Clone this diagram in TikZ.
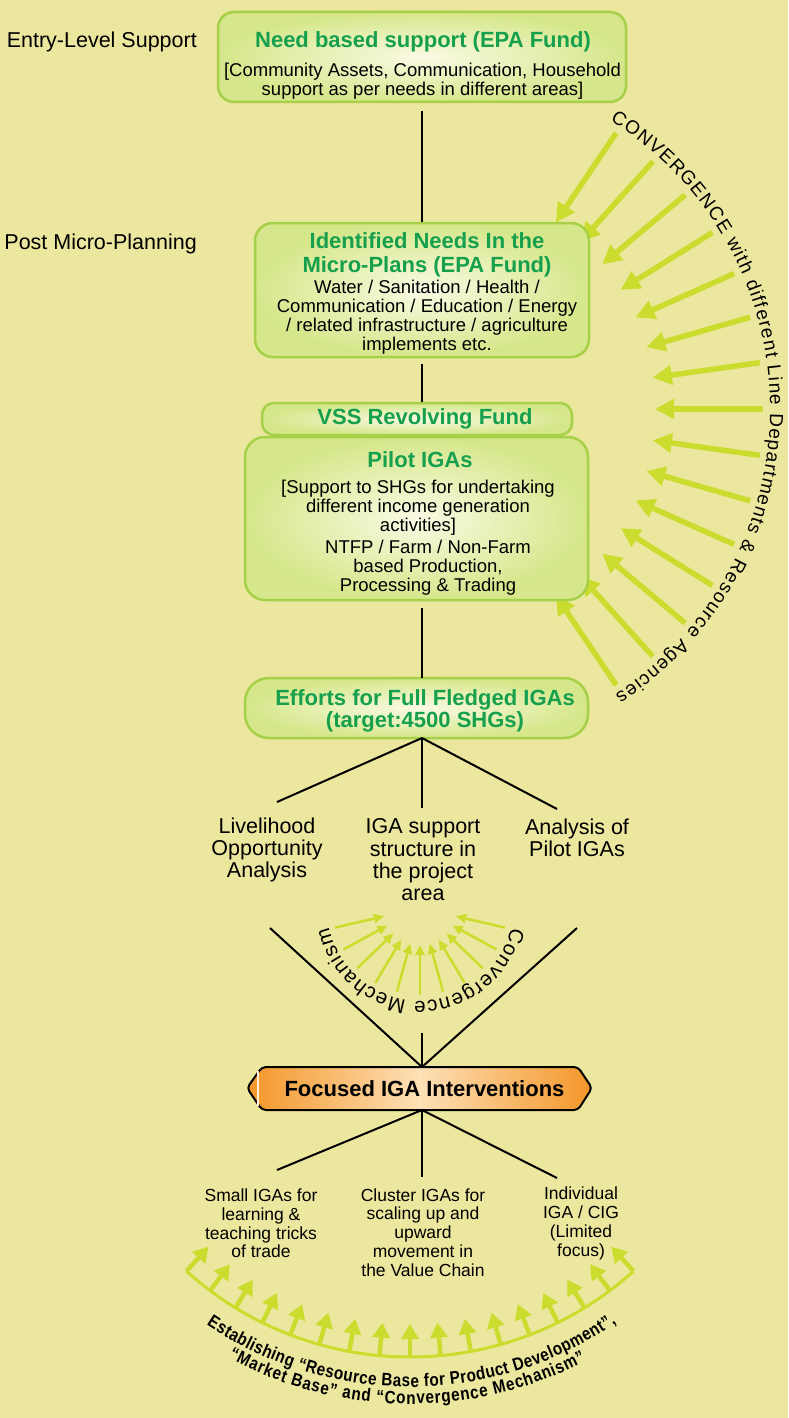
\documentclass[tikz,border=0pt]{standalone}
\usepackage{fontspec}
\setmainfont{Liberation Sans}
\newfontfamily\narrowsans{Liberation Sans}[FakeStretch=0.85]
\usetikzlibrary{decorations.text,arrows.meta,calc}
\definecolor{bg}{RGB}{236,231,158}
\definecolor{boxborder}{RGB}{165,208,72}
\definecolor{boxouter}{RGB}{213,231,138}
\definecolor{boxinner}{RGB}{250,250,228}
\definecolor{titlegreen}{RGB}{22,160,78}
\definecolor{arrowgreen}{RGB}{202,220,45}
\definecolor{orangeD}{RGB}{244,150,40}
\definecolor{orangeL}{RGB}{253,224,182}
\begin{document}
\begin{tikzpicture}[x=1pt,y=-1pt,
  gbox/.style={draw=boxborder, line width=2.5pt, inner color=boxinner, outer color=boxouter, inner sep=0pt},
  ttl/.style={text=titlegreen, font=\bfseries\fontsize{22}{24}\selectfont, align=center, inner sep=0pt},
  body/.style={text=black, font=\fontsize{18.5}{19}\selectfont, align=center, inner sep=0pt},
  lbl/.style={text=black, font=\fontsize{21.5}{22.3}\selectfont, align=center, inner sep=0pt},
  sml/.style={text=black, font=\fontsize{17.5}{18.8}\selectfont, align=center, inner sep=0pt},
  link/.style={draw=black, line width=2pt},
  bigarr/.style={draw=arrowgreen, line width=5.5pt, -{Triangle[length=19pt,width=19pt]}},
  midarr/.style={draw=arrowgreen, line width=2.5pt, -{Triangle[length=10pt,width=9pt]}},
  botarr/.style={draw=arrowgreen, line width=4.5pt, -{Triangle[length=15pt,width=17pt]}},
  arctext/.style={decorate, decoration={text along path, text align={fit to path}, text={#1}}}
]
\path[fill=bg] (0,0) rectangle (788,1418);
\useasboundingbox (0,0) rectangle (788,1418);

% centres of the arcs
\coordinate (C1) at (430,409);
\coordinate (C2) at (420,908);
\coordinate (C3) at (410,1023);

% right convergence arrows
\foreach \k in {0,...,14} {
  \pgfmathsetmacro\a{-56+8*\k}
  \draw[bigarr] ($(C1)+(\a:333)$) -- ($(C1)+(\a:225)$);
}
\path[arctext={|\fontsize{19}{19}\selectfont|CONVERGENCE with different Line Departments {\&} Resource Agencies}]
  ($(C1)+(-58:340)$) arc[start angle=-58, end angle=57, radius=340];

% boxes
\node[gbox, rounded corners=16pt, minimum width=408pt, minimum height=90pt] (needbox) at (422,57) {};
\node[gbox, rounded corners=18pt, minimum width=334pt, minimum height=134pt] (microbox) at (422,290) {};
\node[gbox, rounded corners=20pt, minimum width=343pt, minimum height=163pt] (pilotbox) at (416.5,518.5) {};
\node[gbox, rounded corners=12pt, minimum width=310pt, minimum height=32pt] (vssbox) at (417,419) {};
\node[gbox, rounded corners=24pt, minimum width=343pt, minimum height=60pt] (effbox) at (416.5,708) {};

% left labels
\node[lbl, anchor=east, text height=15pt, text depth=4pt] (l1) at (197,42) {Entry-Level Support};
\node[lbl, anchor=east, text height=15pt, text depth=4pt] (l2) at (197,244) {Post Micro-Planning};

% box texts
\node[ttl] (t1) at (423,42) {Need based support (EPA Fund)};
\node[body] (b1) at (422.5,81.5) {[Community Assets, Communication, Household\\support as per needs in different areas]};
\node[ttl] (t2) at (427,255) {Identified Needs In the\\Micro-Plans (EPA Fund)};
\node[body] (b2) at (427,317.5) {Water / Sanitation / Health /\\Communication / Education / Energy\\/ related infrastructure / agriculture\\implements etc.};
\node[ttl] (t3) at (425,419) {VSS Revolving Fund};
\node[ttl] (t4) at (420,460) {Pilot IGAs};
\node[body] (b3) at (418,508) {[Support to SHGs for undertaking\\different income generation\\activities]};
\node[body] (b4) at (428,568) {NTFP / Farm / Non-Farm\\based Production,\\Processing \& Trading};
\node[ttl, font=\bfseries\fontsize{22}{22}\selectfont] (t5) at (425,711) {Efforts for Full Fledged IGAs\\(target:4500 SHGs)};

% spine connectors
\draw[link, shorten <=8pt] (needbox.south) -- (microbox.north);
\draw[link, shorten <=6pt] (microbox.south) -- (vssbox.north -| microbox.south);
\coordinate (p1) at (422,601);
\coordinate (e1) at (422,678);
\draw[link, shorten <=7pt] (p1) -- (e1);

% first fan
\coordinate (e2) at (422,738);
\coordinate (la-top) at (277,802);
\coordinate (lb-top) at (422,808);
\coordinate (lc-top) at (557,809);
\draw[link] (e2) -- (la-top);
\draw[link] (e2) -- (lb-top);
\draw[link] (e2) -- (lc-top);

\node[lbl] (la) at (267,850) {Livelihood\\Opportunity\\Analysis};
\node[lbl] (lb) at (423,860) {IGA support\\structure in\\the project\\area};
\node[lbl] (lc) at (577,838) {Analysis of\\Pilot IGAs};

% convergence mechanism
\foreach \k in {0,...,10} {
  \pgfmathsetmacro\a{13+15.4*\k}
  \draw[midarr] ($(C2)+(\a:87)$) -- ($(C2)+(\a:37)$);
}
\path[arctext={|\fontsize{20.5}{20.5}\selectfont|Convergence Mechanism}]
  ($(C2)+(12:93)$) arc[start angle=12, end angle=168, radius=93];

\coordinate (ftop) at (422,1067);
\coordinate (fbot) at (422,1110);
\coordinate (cl) at (270,928);
\coordinate (cr) at (577,928);
\coordinate (cm) at (422,1033);
\draw[link] (cl) -- (ftop);
\draw[link] (cr) -- (ftop);
\draw[link] (cm) -- (ftop);

% focused box
\path[draw=black, line width=2pt, left color=orangeD, right color=orangeD, middle color=orangeL, rounded corners=4pt]
  (247,1088) -- (262,1067) -- (578,1067) -- (592,1088) -- (578,1110) -- (262,1110) -- cycle;
\draw[orangeL!60!white, line width=2pt] (258,1071) -- (258,1106);
\node[font=\bfseries\fontsize{22}{22}\selectfont, inner sep=0pt] (focus) at (424.5,1089) {Focused IGA Interventions};

% second fan
\coordinate (sa-top) at (277,1170);
\coordinate (sb-top) at (422,1177);
\coordinate (sc-top) at (557,1178);
\draw[link] (fbot) -- (sa-top);
\draw[link] (fbot) -- (sb-top);
\draw[link] (fbot) -- (sc-top);

\node[sml] (sa) at (261,1223.5) {Small IGAs for\\learning \&\\teaching tricks\\of trade};
\node[sml] (sb) at (423,1232.5) {Cluster IGAs for\\scaling up and\\upward\\movement in\\the Value Chain};
\node[sml] (sc) at (581,1223.5) {Individual\\IGA / CIG\\(Limited\\focus)};

% bottom arc and arrows
\draw[arrowgreen, line width=3pt] ($(C3)+(132:334)$) arc[start angle=132, end angle=48, radius=334];
\foreach \k in {0,...,16} {
  \pgfmathsetmacro\a{132-5.25*\k}
  \draw[botarr] ($(C3)+(\a:334)$) -- ($(C3)+(\a:301)$);
}
\path[arctext={|\narrowsans\bfseries\fontsize{18}{18}\selectfont|Establishing “Resource Base for Product Development”,}]
  ($(C3)+(124:364)$) arc[start angle=124, end angle=55.5, radius=364];
\path[arctext={|\narrowsans\bfseries\fontsize{18}{18}\selectfont|“Market Base” and “Convergence Mechanism”}]
  ($(C3)+(118.5:381)$) arc[start angle=118.5, end angle=62.5, radius=381];
\end{tikzpicture}
\end{document}
